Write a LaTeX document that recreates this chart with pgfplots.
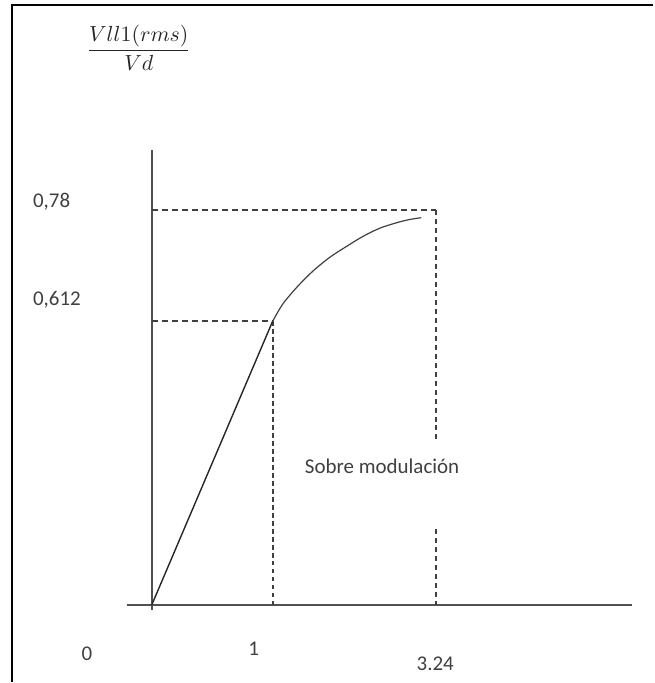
\documentclass[border=0pt]{standalone}
\usepackage{fontspec}
\setmainfont{Carlito}
\usepackage{pgfplots}
\pgfplotsset{compat=1.18}
\definecolor{ink}{HTML}{404040}
\definecolor{axgray}{HTML}{505050}
\begin{document}
\begin{tikzpicture}
\begin{axis}[
  hide axis, scale only axis,
  width=327pt, height=341.5pt,
  xmin=-1.256, xmax=4.149, ymin=-0.166, ymax=1.306,
  clip=false,
]
\path (rel axis cs:0,0) rectangle (rel axis cs:1,1);
% outer frame (top and left visible)
\draw[black, line width=1.1pt] (axis cs:-1.157,-0.166) -- (axis cs:-1.157,1.295) -- (axis cs:4.149,1.295);
% axes
\addplot[axgray, line width=0.9pt] coordinates {(0,-0.01) (0,0.983)};
\addplot[axgray, line width=0.9pt] coordinates {(-0.207,0) (3.975,0)};
% dashed guides
\addplot[ink, line width=1pt, dash pattern=on 3pt off 2pt] coordinates {(0,0.612) (1,0.612)};
\addplot[ink, line width=1pt, dash pattern=on 2.2pt off 1.8pt] coordinates {(1,0.612) (1,0)};
\addplot[ink, line width=1pt, dash pattern=on 3pt off 2pt] coordinates {(0,0.853) (2.355,0.853)};
\addplot[ink, line width=1pt, dash pattern=on 2.5pt off 2pt] coordinates {(2.355,0.853) (2.355,0.356)};
\addplot[ink, line width=1pt, dash pattern=on 2.5pt off 2pt] coordinates {(2.355,0.164) (2.355,0)};
% characteristic
\addplot[black!85, line width=0.7pt] coordinates {(0,0) (1,0.612)};
\addplot[black!75, line width=0.6pt, smooth, tension=0.5] coordinates {
 (1.000,0.612) (1.083,0.649) (1.198,0.685) (1.331,0.720) (1.471,0.750)
 (1.612,0.774) (1.744,0.795) (1.884,0.813) (2.025,0.825) (2.132,0.832) (2.231,0.836)};
% labels
\node[ink, anchor=west, font=\fontsize{10.5}{12}\selectfont] at (axis cs:-1.041,0.871) {0,78};
\node[ink, anchor=west, font=\fontsize{10.5}{12}\selectfont] at (axis cs:-1.041,0.659) {0,612};
\node[ink, font=\fontsize{10.5}{12}\selectfont] at (axis cs:-0.537,-0.106) {0};
\node[ink, font=\fontsize{10.5}{12}\selectfont] at (axis cs:0.843,-0.095) {1};
\node[ink, font=\fontsize{10.5}{12}\selectfont] at (axis cs:2.347,-0.127) {3.24};
\node[ink, anchor=west, font=\fontsize{10.5}{12}\selectfont] at (axis cs:1.21,0.300) {Sobre modulación};
\node[black!85, font=\fontsize{11}{13}\selectfont] at (axis cs:-0.107,1.203) {$\displaystyle\frac{Vll1(rms)}{Vd}$};
\end{axis}
\end{tikzpicture}
\end{document}
